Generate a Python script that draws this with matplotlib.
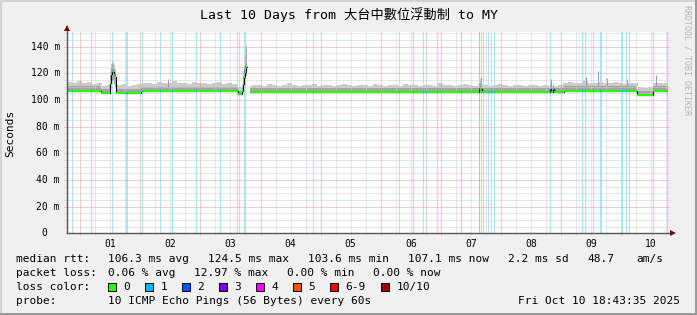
import numpy as np
import matplotlib
matplotlib.use("Agg")
import matplotlib.pyplot as plt
from matplotlib.patches import Rectangle

nan = np.nan
W, H = 697, 315
MONO = ["DejaVu Sans Mono", "Noto Sans CJK TC"]
plt.rcParams["font.family"] = MONO

# ---------------- data: time in days since Oct 01 00:00, rtt in ms ----------------
t_start, t_end = -0.22, 9.78
day_labels = ["01", "02", "03", "04", "05", "06", "07", "08", "09", "10"]

# median rtt, step segments starting at med_t
med_t = [-0.220, 0.345, 0.495, 0.512, 0.528, 0.545, 0.562, 0.578, 0.603, 1.012,
         2.628, 2.687, 2.703, 2.720, 2.737, 2.753, 2.778, 2.828,
         6.640, 6.690, 7.820, 7.837, 7.870, 7.887, 8.053, 9.262, 9.528]
med_v = [107.0, 105.2, 113.0, 119.5, 122.0, 121.0, 119.0, 117.0, 105.6, 106.8,
         104.5, 107.0, 112.0, 117.0, 121.0, 124.5, nan, 106.0,
         108.0, 106.0, 108.5, 106.0, 108.5, 106.0, 107.1, 103.7, 107.1]
# smoke per segment: lowest ping, top of dense band, top of light band
lo_v = [105.8, 104.2, 108.0, 112.0, 114.0, 114.0, 112.0, 110.0, 104.6, 105.8,
        103.5, 105.0, 108.0, 112.0, 115.0, 118.0, nan, 105.0,
        105.0, 105.0, 105.0, 105.0, 105.0, 105.0, 106.0, 102.8, 106.0]
mid_v = [110.5, 108.0, 118.0, 124.0, 127.0, 126.0, 123.0, 120.0, 108.5, 110.0,
         107.0, 110.0, 118.0, 125.0, 132.0, 138.0, nan, 109.0,
         112.0, 109.0, 111.0, 109.0, 111.0, 109.0, 110.3, 106.5, 110.3]
hi_v = [112.0, 110.0, 121.0, 127.0, 130.0, 129.0, 126.0, 123.0, 110.5, 112.0,
        109.0, 112.0, 122.0, 130.0, 137.0, 141.0, nan, 110.5,
        116.0, 110.5, 113.0, 110.5, 113.0, 110.5, 112.0, 108.5, 112.0]

# top of smoke in 2 hour bins
top_v = [113.5, 112.5, 114.0, 113.0, 113.5, 112.0, 113.0,
         110.5, 111.0,
         nan,
         111.5, 112.0, 110.5, 111.5, 112.0,
         112.5, 113.0, 112.0, 113.5, 112.5, 113.0, 114.0, 112.5, 113.0, 112.0,
         113.5, 112.5, 113.0, 112.0, 112.5, 113.5, 112.0, 112.5, 111.5,
         110.0, nan, nan,
         111.0, 111.5, 110.5, 112.0, 111.0, 110.5, 111.5, 112.5, 111.0, 110.5,
         111.5, 111.0, 112.0, 110.5, 111.0, 111.5, 110.0, 111.0, 112.0, 111.5,
         110.5, 111.0, 111.5, 110.5, 112.0, 111.0, 110.5, 111.5, 111.0, 110.5,
         112.0, 111.5, 111.0, 110.0, 111.0, 111.5, 110.5, 112.5, 111.0, 111.5,
         110.5, 111.0, 112.0, 111.0, 110.5, 111.5, 111.0, 110.5, 111.5, 112.0,
         111.0, 110.5, 111.5, 111.0, 110.5, 111.0, 111.5, 110.5, 111.0, 111.5,
         110.5, 111.0,
         113.0, 113.5, 112.5, 113.0, 114.0, 113.0, 112.5, 113.5, 113.0, 112.5,
         113.5, 113.0, 112.0, 113.0, 112.5,
         109.5, 109.0, 109.5,
         112.5, 113.0, 112.5]

# single slow pings sticking out of the smoke
spike_t = [1.462, 6.670, 7.833, 8.412, 8.612, 8.767, 9.095, 9.583]
spike_v = [116.0, 117.5, 116.0, 117.0, 122.0, 116.5, 115.5, 118.5]

# loss events (pings lost out of 10)
loss_t = [-0.133, 0.183, 0.533, 0.775, 0.792, 1.033, 1.333, 1.533, 1.940, 2.333,
          2.617, 2.650, 2.737, 2.754, 3.883, 5.317, 5.550, 5.707, 5.762, 5.940,
          6.350, 6.650, 6.683, 6.717, 6.800, 6.850, 6.900, 7.833, 8.357, 8.400,
          8.533, 8.649, 8.666, 9.028, 9.095, 9.133, 9.540, 9.773]
loss_n = [1, 1, 1, 1, 1, 1, 1, 1, 1, 1,
          1, 1, 1, 1, 1, 1, 1, 1, 1, 1,
          1, 2, 1, 1, 1, 1, 1, 1, 1, 1,
          1, 1, 1, 1, 1, 1, 1, 1]

loss_names = ["0", "1", "2", "3", "4", "5", "6-9", "10/10"]
loss_cols = ["#26ff00", "#00b8ff", "#0059ff", "#7e00ff", "#ff00ff", "#ff5500", "#ff0000", "#a10000"]

title = "Last 10 Days from 大台中數位浮動制 to MY"
stats_rtt = ["106.3 ms avg", "124.5 ms max", "103.6 ms min", "107.1 ms now", "2.2 ms sd", "48.7", "am/s"]
stats_loss = ["0.06 % avg", "12.97 % max", "0.00 % min", "0.00 % now"]
probe = "10 ICMP Echo Pings (56 Bytes) every 60s"
stamp = "Fri Oct 10 18:43:35 2025"

# ---------------- figure ----------------
fig = plt.figure(figsize=(W / 100, H / 100), dpi=100, facecolor="#f0f0f0")
over = fig.add_axes([0, 0, 1, 1])
over.set_xlim(0, W); over.set_ylim(H, 0); over.axis("off")
ax = fig.add_axes([67 / W, 1 - 233.3 / H, 601 / W, 201.3 / H])
ax.set_facecolor("white")
ax.set_xlim(t_start, t_end); ax.set_ylim(0, 151)
for s in ax.spines.values(): s.set_visible(False)
ax.set_xticks([]); ax.set_yticks([])

# frame shading
over.add_patch(Rectangle((0, 0), W, 2, color="#d2d2d2", lw=0))
over.add_patch(Rectangle((0, 0), 2, H, color="#d2d2d2", lw=0))
over.add_patch(Rectangle((0, H - 2), W, 2, color="#9a9a9a", lw=0))
over.add_patch(Rectangle((W - 2, 0), 2, H, color="#9a9a9a", lw=0))

# loss background bars
ax.bar(loss_t, 151, width=1 / 60, bottom=0, color=[loss_cols[n] for n in loss_n],
       alpha=0.35, lw=0, zorder=0.5)

# smoke (bars per step so gaps stay empty)
seg_end = med_t[1:] + [t_end]
seg_w = np.diff(med_t + [t_end])
lo, mid, hi = np.array(lo_v), np.array(mid_v), np.array(hi_v)
ax.bar(med_t, hi - lo, width=seg_w, bottom=lo, align="edge", color="#cacaca", lw=0, zorder=1)
bin_t = t_start + np.arange(len(top_v)) / 12
idx = np.searchsorted(med_t, bin_t + 1 / 24, side="right") - 1
base = mid[idx]
ax.bar(bin_t, np.array(top_v) - base, width=1 / 12, bottom=base, align="edge",
       color="#cacaca", lw=0, zorder=1)
ax.vlines(spike_t, 108, spike_v, color="#9a9a9a", lw=0.75, zorder=1.1)
ax.bar(med_t, mid - lo, width=seg_w, bottom=lo, align="edge", color="#a4a4a4", lw=0, zorder=1.2)

# grid (dotted, drawn over the smoke like rrdtool)
dot = (0, (1, 1))
minor_x = [d for d in np.arange(0, t_end, 0.25) if d % 1 != 0]
major_x = list(range(0, 10))
ax.vlines(minor_x, -1.5, 151, color="#cfcfcf", lw=0.72, linestyles=[dot], zorder=2.5, clip_on=False)
ax.vlines(major_x, -1.5, 151, color="#e49c9c", lw=0.72, linestyles=[dot], zorder=2.6, clip_on=False)
minor_y = [v for v in range(5, 151, 5) if v % 20 != 0]
major_y = list(range(20, 141, 20))
ax.hlines(minor_y, t_start - 0.05, t_end + 0.03, color="#cfcfcf", lw=0.72, linestyles=[dot], zorder=2.5, clip_on=False)
ax.hlines(major_y, t_start - 0.05, t_end + 0.03, color="#e49c9c", lw=0.72, linestyles=[dot], zorder=2.6, clip_on=False)

# median line
ax.step(med_t + [t_end], med_v + [med_v[-1]], where="post", color="black", lw=0.8, zorder=3)
ax.hlines(med_v, med_t, seg_end, color=loss_cols[0], lw=1.5, zorder=3.2)
li = np.searchsorted(med_t, loss_t, side="right") - 1
ax.hlines(np.array(med_v)[li], np.array(loss_t) - 1 / 120, np.array(loss_t) + 1 / 120,
          colors=[loss_cols[n] for n in loss_n], lw=1.5, zorder=3.4)

# axes with arrows
ax.plot([t_start, t_start], [0, 153], color="#555555", lw=1, zorder=4, clip_on=False)
ax.plot([t_start, 9.84], [0, 0], color="#555555", lw=1, zorder=4, clip_on=False)
ax.plot([t_start], [154], marker="^", ms=4, color="#7f0000", mew=0, clip_on=False, zorder=5)
ax.plot([9.865], [0], marker=">", ms=4, color="#7f0000", mew=0, clip_on=False, zorder=5)

# tick labels
ytr = ax.get_yaxis_transform()
ax.text(-0.0383, 0, "0", transform=ytr, ha="center", va="center", fontsize=7)
for v in major_y:
    ax.text(-0.0117, v, f"{v} m", transform=ytr, ha="right", va="center", fontsize=7)
xtr = ax.get_xaxis_transform()
for d, lab in enumerate(day_labels):
    ax.text(d + 0.5, -0.053, lab, transform=xtr, ha="center", va="center", fontsize=7)

# texts
over.text(W / 2, 15, title, ha="center", va="center", fontsize=9.5)
over.text(10, 133, "Seconds", rotation=90, ha="center", va="center", fontsize=8)
over.text(687, 60, "RRDTOOL / TOBI OETIKER", rotation=270, ha="center", va="center",
          fontsize=6, color="#b4b4b4")

fs = 8
over.text(16, 259.3, "median rtt:", va="center", fontsize=fs)
for x, s in zip([107.6, 207.6, 307.6, 408, 507.6, 587.5, 636.4], stats_rtt):
    over.text(x, 259.3, s, va="center", fontsize=fs)
over.text(16, 273.3, "packet loss:", va="center", fontsize=fs)
for x, s in zip([107.6, 194, 287, 373], stats_loss):
    over.text(x, 273.3, s, va="center", fontsize=fs)
over.text(16, 287.3, "loss color:", va="center", fontsize=fs)
box_x = [108, 145.3, 182.2, 219, 256, 293.3, 330.2, 381.3]
for bx, name, c in zip(box_x, loss_names, loss_cols):
    over.add_patch(Rectangle((bx, 283.3), 8, 8, facecolor=c, edgecolor="black", lw=0.7))
    over.text(bx + 15, 287.3, name, va="center", fontsize=fs)
over.text(16, 301, "probe:", va="center", fontsize=fs)
over.text(107.6, 301, probe, va="center", fontsize=fs)
over.text(680, 301, stamp, ha="right", va="center", fontsize=fs)

fig.savefig("out.png", dpi=100, facecolor=fig.get_facecolor())
